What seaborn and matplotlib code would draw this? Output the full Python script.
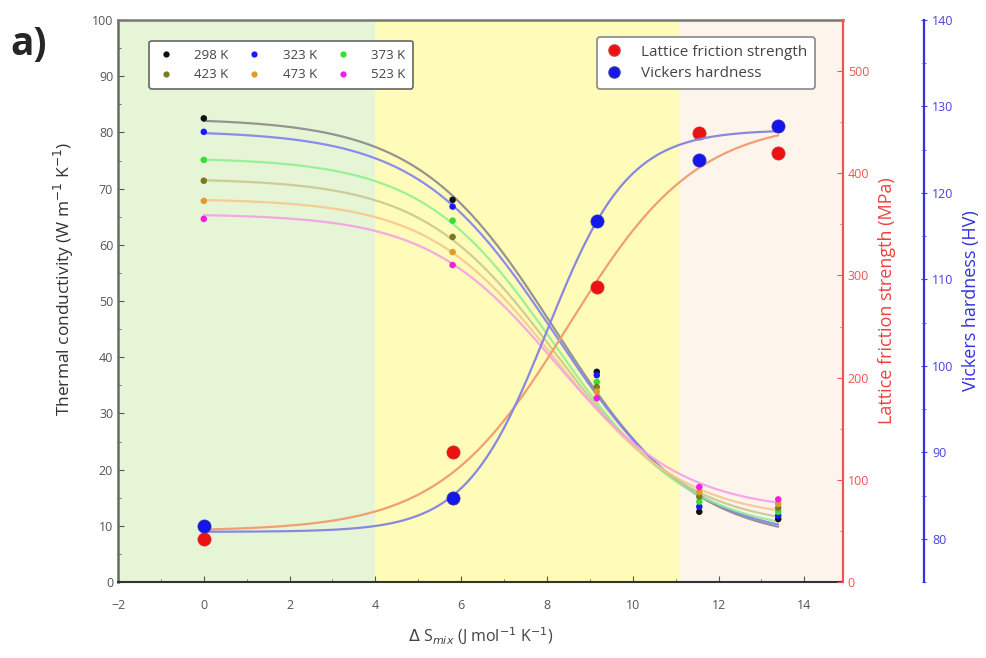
import numpy as np
import pandas as pd
import matplotlib
matplotlib.use("Agg")
import matplotlib.pyplot as plt
import seaborn as sns
from matplotlib.ticker import MultipleLocator
from matplotlib.lines import Line2D

# ---------------- data ----------------
ds_mix = [0.0, 5.8, 9.16, 11.55, 13.39]
temps = ["298 K", "323 K", "373 K", "423 K", "473 K", "523 K"]
tc_298 = [82.5, 68.0, 37.4, 12.5, 11.2]
tc_323 = [80.1, 66.8, 36.8, 13.4, 11.8]
tc_373 = [75.1, 64.3, 35.6, 14.3, 12.5]
tc_423 = [71.4, 61.4, 34.7, 15.2, 13.2]
tc_473 = [67.8, 58.7, 33.9, 16.0, 13.9]
tc_523 = [64.6, 56.4, 32.7, 16.9, 14.7]
lattice_friction = [41.8, 127.0, 289.0, 439.0, 420.0]
vickers = [81.5, 84.7, 116.8, 123.8, 127.7]

# Boltzmann fit parameters (A1, A2, x0, dx), estimated from the drawn fit curves
fit_tc = {
    "298 K": (82.5, 7.0, 8.2, 1.6),
    "323 K": (80.3, 7.5, 8.2, 1.6),
    "373 K": (75.5, 8.5, 8.2, 1.55),
    "423 K": (71.8, 9.5, 8.2, 1.55),
    "473 K": (68.2, 11.0, 8.2, 1.5),
    "523 K": (65.5, 12.5, 8.2, 1.5),
}
fit_lattice = (50.0, 452.0, 8.5, 1.5)
fit_vickers = (80.8, 127.3, 8.0, 0.95)

# ---------------- styling ----------------
marker_colors = ["#111111", "#1a1aff", "#33e033", "#7a7a22", "#e09a30", "#f020e0"]
line_colors = ["#8a8a8a", "#8080f0", "#90f090", "#c8c890", "#f5c890", "#f5a0e8"]

sns.set_style("ticks")
plt.rcParams["font.family"] = ["Open Sans", "DejaVu Sans"]

fig = plt.figure(figsize=(9.86, 6.58), dpi=100)
ax = fig.add_axes([118 / 986, 1 - 582 / 658, 725 / 986, 562 / 658])
ax2 = ax.twinx()
ax3 = ax.twinx()

xmin, xmax = -2, 14.9
ax.axvspan(-2, 4, color="#e6f5d6", lw=0, zorder=0)
ax.axvspan(4, 11.07, color="#fffbb9", lw=0, zorder=0)
ax.axvspan(11.07, xmax, color="#fdf5ec", lw=0, zorder=0)

def boltz(x, p):
    a1, a2, x0, dx = p
    return a2 + (a1 - a2) / (1 + np.exp((x - x0) / dx))

xs = np.linspace(0, 13.39, 200)
tc_series = [tc_298, tc_323, tc_373, tc_423, tc_473, tc_523]
rows = []
for t, vals in zip(temps, tc_series):
    for x, v in zip(ds_mix, vals):
        rows.append({"x": x, "y": v, "T": t})
df_tc = pd.DataFrame(rows)
fit_rows = []
for t in temps:
    for x, v in zip(xs, boltz(xs, fit_tc[t])):
        fit_rows.append({"x": x, "y": v, "T": t})
df_fit = pd.DataFrame(fit_rows)

sns.lineplot(data=df_fit, x="x", y="y", hue="T", palette=line_colors, hue_order=temps,
             ax=ax, legend=False, lw=1.6, alpha=0.9, zorder=3, sort=False)
sns.scatterplot(data=df_tc, x="x", y="y", hue="T", palette=marker_colors, hue_order=temps,
                ax=ax, legend=False, s=22, edgecolor="none", zorder=4)

# Lattice friction strength (red axis)
df_lat = pd.DataFrame({"x": ds_mix, "y": lattice_friction})
df_lat_fit = pd.DataFrame({"x": xs, "y": boltz(xs, fit_lattice)})
sns.lineplot(data=df_lat_fit, x="x", y="y", ax=ax2, color="#f0a070", lw=1.6, zorder=3)
sns.scatterplot(data=df_lat, x="x", y="y", ax=ax2, color="#ee1111", s=90,
                edgecolor="#cc3333", linewidth=0.5, zorder=5)

# Vickers hardness (blue axis)
df_vh = pd.DataFrame({"x": ds_mix, "y": vickers})
df_vh_fit = pd.DataFrame({"x": xs, "y": boltz(xs, fit_vickers)})
sns.lineplot(data=df_vh_fit, x="x", y="y", ax=ax3, color="#8888dd", lw=1.6, zorder=3)
sns.scatterplot(data=df_vh, x="x", y="y", ax=ax3, color="#1515ee", s=90,
                edgecolor="#3333aa", linewidth=0.5, zorder=6)

# ---------------- axes ----------------
ax.set_xlim(xmin, xmax)
ax.set_ylim(0, 100)
ax2.set_ylim(0, 550)
ax3.set_ylim(75, 140)

ax.xaxis.set_major_locator(MultipleLocator(2))
ax.xaxis.set_minor_locator(MultipleLocator(1))
ax.yaxis.set_major_locator(MultipleLocator(10))
ax.yaxis.set_minor_locator(MultipleLocator(5))
ax.tick_params(axis="both", which="both", direction="in", labelsize=9, colors="#555555",
               top=False, right=False)
ax.tick_params(which="major", length=4)
ax.tick_params(which="minor", length=2.5)
ax.tick_params(axis="x", pad=12)

ax2.yaxis.set_major_locator(MultipleLocator(100))
ax2.yaxis.set_minor_locator(MultipleLocator(50))
ax2.tick_params(axis="y", which="both", direction="in", colors="#f05555", labelsize=9)
ax2.tick_params(which="major", length=4)
ax2.tick_params(which="minor", length=2.5)

ax3.spines["right"].set_position(("outward", 58))
ax3.yaxis.set_major_locator(MultipleLocator(10))
ax3.yaxis.set_minor_locator(MultipleLocator(5))
ax3.tick_params(axis="y", which="both", direction="inout", colors="#4444dd", labelsize=9)
ax3.tick_params(which="major", length=5)
ax3.tick_params(which="minor", length=3)

for a in (ax, ax2, ax3):
    for s in a.spines.values():
        s.set_visible(False)
ax.spines["left"].set_visible(True)
ax.spines["left"].set_color("#6a6a6a")
ax.spines["left"].set_linewidth(1.8)
ax.spines["bottom"].set_visible(True)
ax.spines["bottom"].set_color("#333333")
ax.spines["bottom"].set_linewidth(1.5)
ax.spines["top"].set_visible(True)
ax.spines["top"].set_color("#777777")
ax.spines["top"].set_linewidth(1.8)
ax2.spines["right"].set_visible(True)
ax2.spines["right"].set_color("#f05555")
ax2.spines["right"].set_linewidth(1.6)
ax3.spines["right"].set_visible(True)
ax3.spines["right"].set_color("#3333dd")
ax3.spines["right"].set_linewidth(1.6)

ax.set_xlabel(r"$\Delta$ S$_{mix}$ (J mol$^{-1}$ K$^{-1}$)", fontsize=11.5, color="#444444", labelpad=10)
ax.set_ylabel(r"Thermal conductivity (W m$^{-1}$ K$^{-1}$)", fontsize=12.5, color="#333333")
ax.yaxis.set_label_coords(-0.058, 0.54)
ax2.set_ylabel("Lattice friction strength (MPa)", fontsize=13, color="#f04040", labelpad=6)
ax3.set_ylabel("Vickers hardness (HV)", fontsize=13, color="#3333dd", labelpad=6)
ax2.set_xlabel("")
ax3.set_xlabel("")

fig.text(10 / 986, 1 - 45 / 658, "a)", fontsize=28, fontweight="bold", va="center", ha="left")

# ---------------- legends ----------------
order = [0, 3, 1, 4, 2, 5]
h1 = [Line2D([], [], ls="none", marker="o", ms=4.5, color=marker_colors[i], mec="none") for i in order]
l1 = [temps[i] for i in order]
leg1 = ax3.legend(h1, l1, ncol=3, loc="upper left", bbox_to_anchor=(0.034, 0.975),
                  fontsize=9.5, frameon=True, fancybox=True, edgecolor="#666666",
                  framealpha=1, handletextpad=1.5, columnspacing=1.3, labelspacing=0.5,
                  borderpad=0.6, handlelength=1.3)
leg1.get_frame().set_linewidth(1.2)
for t in leg1.get_texts():
    t.set_color("#444444")
ax3.add_artist(leg1)

h2 = [Line2D([], [], ls="none", marker="o", ms=8, color="#ee1111", mec="#cc3333"),
      Line2D([], [], ls="none", marker="o", ms=8, color="#1515ee", mec="#3333aa")]
leg2 = ax3.legend(h2, ["Lattice friction strength", "Vickers hardness"], loc="upper right",
                  bbox_to_anchor=(0.972, 0.983), fontsize=11, frameon=True, fancybox=True,
                  edgecolor="#888888", framealpha=1, handletextpad=1.2, labelspacing=0.4,
                  borderpad=0.5, handlelength=1.2)
leg2.get_frame().set_linewidth(1.2)
for t in leg2.get_texts():
    t.set_color("#444444")

fig.savefig("out.png", dpi=100)
